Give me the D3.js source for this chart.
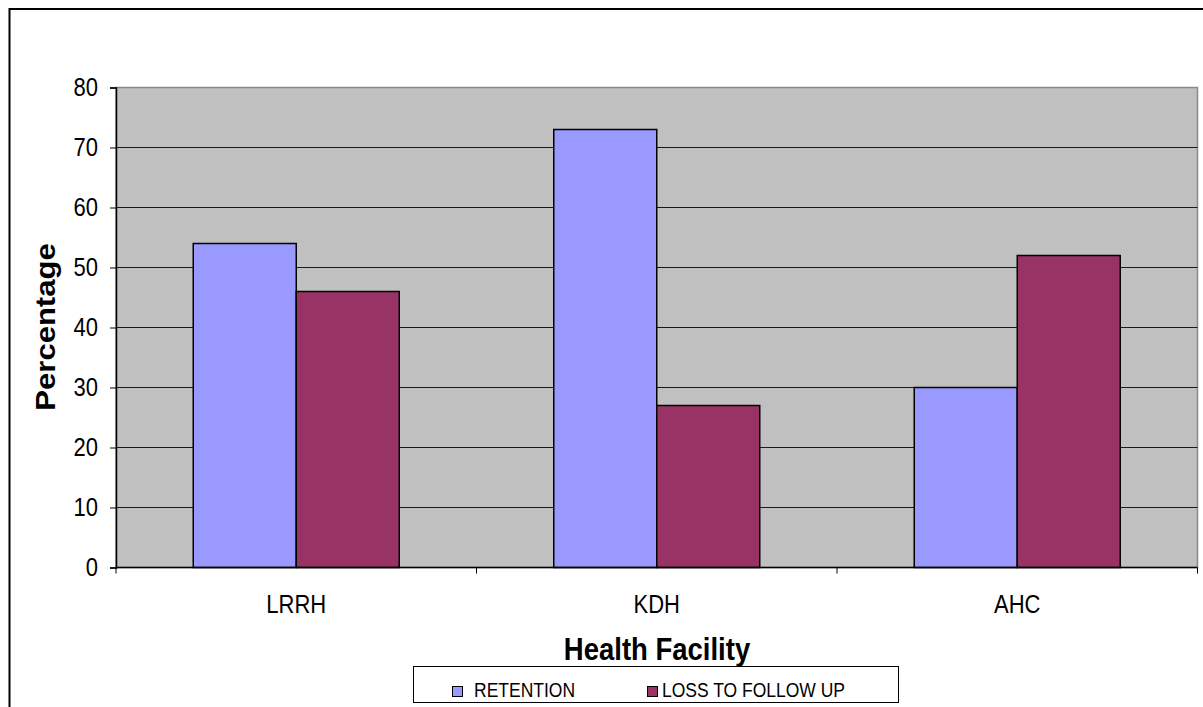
<!DOCTYPE html>
<html>
<head>
<meta charset="utf-8">
<script src="https://cdn.jsdelivr.net/npm/d3@7"></script>
<style>
  html, body { margin: 0; padding: 0; background: #fff; }
  svg { display: block; font-family: Arial, "Liberation Sans", sans-serif; }
</style>
</head>
<body>
<svg id="chart" width="1203" height="707"></svg>
<script>
// Retention vs loss to follow-up by health facility (%)
const categories = ["LRRH", "KDH", "AHC"];
const seriesNames = ["RETENTION", "LOSS TO FOLLOW UP"];
const retention = [54, 73, 30];
const lossToFollowUp = [46, 27, 52];
const yTicks = [0, 10, 20, 30, 40, 50, 60, 70, 80];
const seriesColors = ["#9999FF", "#993366"];

const seriesValues = [retention, lossToFollowUp];
const rows = categories.map((c, i) => ({
  category: c,
  values: seriesNames.map((s, j) => ({ series: s, value: seriesValues[j][i], color: seriesColors[j] }))
}));

// text is drawn slightly tall, as in the original chart export
const TALL = 1.15;

const svg = d3.select("#chart");
const plot = { left: 116, right: 1197.5, top: 87.5, bottom: 567.5 };

// outer chart frame
svg.append("rect")
  .attr("x", 9.5).attr("y", 9).attr("width", 1210).attr("height", 720)
  .attr("fill", "#fff").attr("stroke", "#000").attr("stroke-width", 2);

const x0 = d3.scaleBand().domain(categories).range([plot.left, plot.right]).padding(0);
const x1 = d3.scaleBand().domain(seriesNames).range([0, x0.bandwidth()]).paddingInner(0).paddingOuter(0.75);
const y = d3.scaleLinear().domain([0, 80]).range([plot.bottom, plot.top]);

// plot background
svg.append("rect")
  .attr("x", plot.left).attr("y", plot.top)
  .attr("width", plot.right - plot.left).attr("height", plot.bottom - plot.top)
  .attr("fill", "#C0C0C0").attr("stroke", "#8a8a8a").attr("stroke-width", 1.5);

// horizontal gridlines
svg.append("g").selectAll("line")
  .data(yTicks.filter(t => t > 0 && t < 80))
  .join("line")
  .attr("x1", plot.left).attr("x2", plot.right)
  .attr("y1", d => y(d)).attr("y2", d => y(d))
  .attr("stroke", "#1a1a1a").attr("stroke-width", 1);

// bars
const groups = svg.append("g").selectAll("g")
  .data(rows).join("g")
  .attr("transform", d => `translate(${x0(d.category)},0)`);

groups.selectAll("rect")
  .data(d => d.values).join("rect")
  .attr("x", d => x1(d.series))
  .attr("y", d => y(d.value))
  .attr("width", x1.bandwidth())
  .attr("height", d => y(0) - y(d.value))
  .attr("fill", d => d.color)
  .attr("stroke", "#000").attr("stroke-width", 1.5);

// y axis
const yAxis = d3.axisLeft(y).tickValues(yTicks).tickSize(6).tickPadding(12);
const yg = svg.append("g").attr("transform", `translate(${plot.left},0)`).call(yAxis);
yg.select(".domain").attr("stroke", "#000").attr("stroke-width", 1.5);
yg.selectAll(".tick line").attr("stroke", "#000");
yg.selectAll(".tick text")
  .attr("font-size", 22).attr("fill", "#000")
  .attr("font-family", "Arial, 'Liberation Sans', sans-serif")
  .attr("transform", `scale(1,${TALL})`);

// x axis: ticks sit on category boundaries
const xg = svg.append("g").attr("transform", `translate(0,${plot.bottom})`);
xg.append("line").attr("x1", plot.left).attr("x2", plot.right)
  .attr("stroke", "#000").attr("stroke-width", 1.5);
const boundaries = categories.map(c => x0(c)).concat([x0.range()[1]]);
xg.selectAll("line.tk").data(boundaries).join("line").attr("class", "tk")
  .attr("x1", d => d).attr("x2", d => d).attr("y1", 0).attr("y2", 6)
  .attr("stroke", "#000");
xg.selectAll("text").data(categories).join("text")
  .attr("transform", d => `translate(${x0(d) + x0.bandwidth() / 2},45) scale(1,${TALL})`)
  .attr("text-anchor", "middle")
  .attr("font-size", 22)
  .text(d => d);

// axis titles
svg.append("text")
  .attr("transform", `translate(55,327) rotate(-90) scale(${TALL},1)`)
  .attr("text-anchor", "middle")
  .attr("font-size", 27).attr("font-weight", "bold")
  .text("Percentage");

svg.append("text")
  .attr("transform", `translate(657,660) scale(1,${TALL})`)
  .attr("text-anchor", "middle")
  .attr("font-size", 27.5).attr("font-weight", "bold")
  .text("Health Facility");

// legend
const legend = svg.append("g");
legend.append("rect")
  .attr("x", 413.5).attr("y", 666.5).attr("width", 485).attr("height", 36)
  .attr("fill", "#fff").attr("stroke", "#000").attr("stroke-width", 1);
const legendX = [452, 647];
const items = legend.selectAll("g.item").data(seriesNames).join("g").attr("class", "item")
  .attr("transform", (d, i) => `translate(${legendX[i]},0)`);
items.append("rect")
  .attr("x", 0.5).attr("y", 686.5).attr("width", 10).attr("height", 10)
  .attr("fill", (d, i) => seriesColors[i]).attr("stroke", "#000").attr("stroke-width", 1);
items.append("text")
  .attr("transform", (d, i) => `translate(${i === 0 ? 22 : 15},697) scale(1,${TALL})`)
  .attr("font-size", 17.5)
  .text(d => d);
</script>
</body>
</html>
